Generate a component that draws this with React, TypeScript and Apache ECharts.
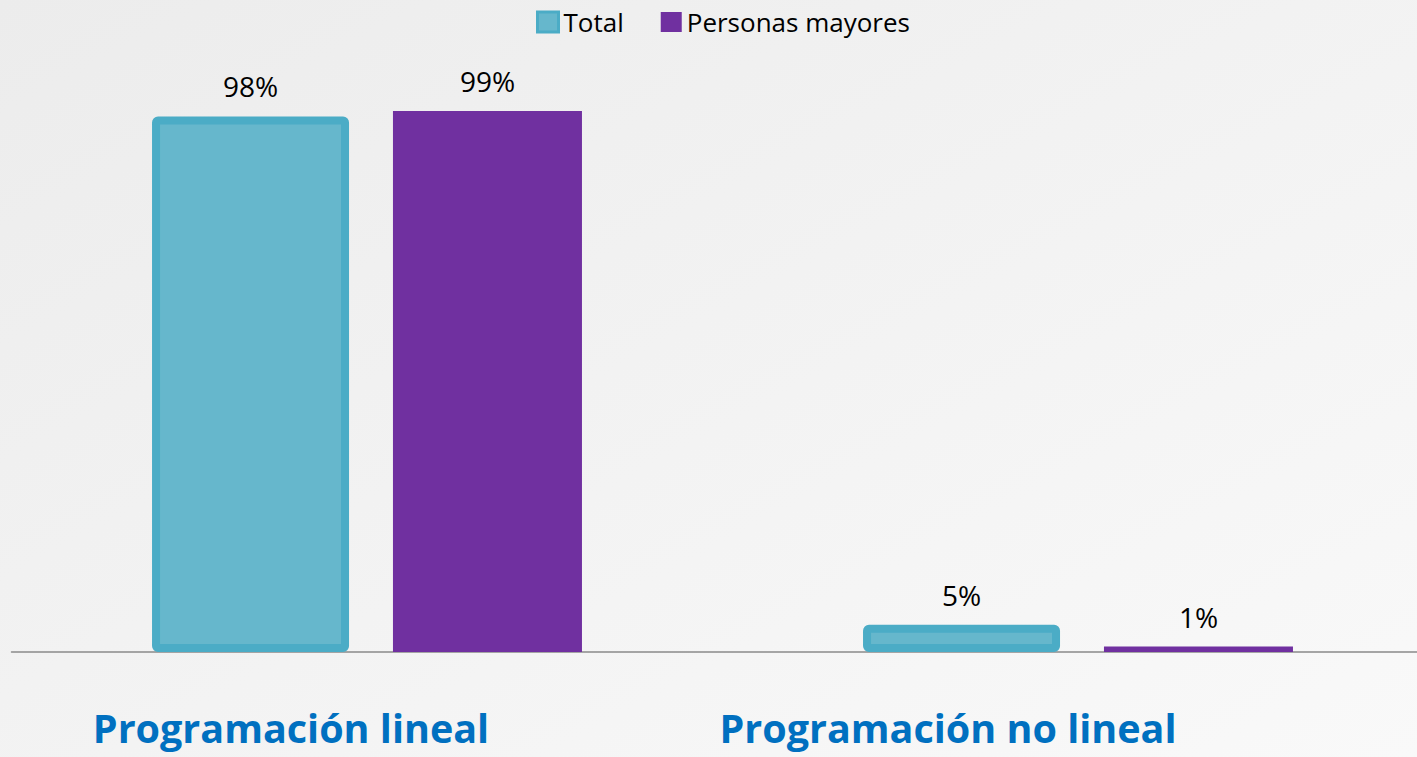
import React, { useEffect, useRef } from "react";
import * as echarts from "echarts";

const categories = ["Programación lineal", "Programación no lineal"];
const totalValues = [98, 5];
const mayoresValues = [99, 1];
const seriesNames = ["Total", "Personas mayores"];

export default function App() {
  const ref = useRef<HTMLDivElement>(null);
  useEffect(() => {
    if (!ref.current) return;
    const chart = echarts.init(ref.current, null, { renderer: "svg" });
    const labelStyle = {
      show: true,
      position: "top",
      distance: 16,
      formatter: "{c}%",
      fontFamily: "Open Sans",
      fontSize: 28,
      color: "#000000",
    };
    const catFont = {
      fontFamily: "Open Sans",
      fontWeight: "bold",
      fontSize: 39.5,
      color: "#0070c0",
    };
    chart.setOption({
      animation: false,
      textStyle: { fontFamily: "Open Sans" },
      legend: {
        data: [
          { name: seriesNames[0], itemStyle: { borderWidth: 3 } },
          seriesNames[1],
        ],
        left: 531,
        top: 4,
        icon: "rect",
        itemWidth: 21,
        itemHeight: 20,
        itemGap: 37,
        textStyle: { fontFamily: "Open Sans", fontSize: 26, color: "#000000" },
      },
      grid: { left: 11.5, width: 1422, top: 105.5, bottom: 105, containLabel: false },
      xAxis: {
        type: "category",
        data: categories,
        axisLine: { show: true, lineStyle: { color: "#8a8a8a", width: 1.5 } },
        axisTick: { show: false },
        axisLabel: {
          margin: 56,
          interval: 0,
          formatter: (v: string) =>
            v === categories[0] ? "{a|" + v + "}" : "{b|" + v + "}",
          rich: {
            a: { ...catFont, padding: [0, 152, 0, 0] },
            b: { ...catFont, padding: [0, 260, 0, 0] },
          },
        },
      },
      yAxis: {
        type: "value",
        min: 0,
        max: 100,
        show: false,
        splitLine: { show: false },
      },
      series: [
        {
          name: seriesNames[0],
          type: "bar",
          data: totalValues,
          barWidth: 197,
          barGap: "22.3%",
          itemStyle: {
            color: "#66b7cc",
            borderColor: "#4bacc6",
            borderWidth: 8,
            borderRadius: 2,
          },
          label: labelStyle,
        },
        {
          name: seriesNames[1],
          type: "bar",
          data: mayoresValues,
          barWidth: 189,
          barGap: "22.3%",
          itemStyle: { color: "#7030a0" },
          label: labelStyle,
        },
      ],
    });
    return () => chart.dispose();
  }, []);
  return (
    <div
      style={{
        position: "absolute",
        left: 0,
        top: 0,
        width: 1417,
        height: 757,
        overflow: "hidden",
        background: "linear-gradient(to bottom right, #ececec, #f9f9f9)",
      }}
    >
      <div ref={ref} style={{ width: 1440, height: 757 }} />
    </div>
  );
}
